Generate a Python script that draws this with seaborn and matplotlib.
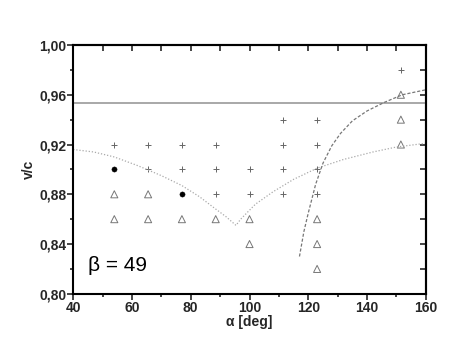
import matplotlib
matplotlib.use("Agg")
import matplotlib.pyplot as plt
import pandas as pd
import seaborn as sns
from matplotlib.ticker import MultipleLocator, FormatStrFormatter

# measured points
plus_alpha = [54, 65.5, 65.5, 77, 77, 88.5, 88.5, 88.5, 100, 100,
              111.5, 111.5, 111.5, 111.5, 123, 123, 123, 123, 151.5]
plus_vc = [0.92, 0.92, 0.90, 0.92, 0.90, 0.92, 0.90, 0.88, 0.90, 0.88,
           0.94, 0.92, 0.90, 0.88, 0.94, 0.92, 0.90, 0.88, 0.98]

tri_alpha = [54, 54, 65.5, 65.5, 77, 88.5, 100, 100, 123, 123, 123,
             151.5, 151.5, 151.5]
tri_vc = [0.88, 0.86, 0.88, 0.86, 0.86, 0.86, 0.86, 0.84, 0.86, 0.84, 0.82,
          0.96, 0.94, 0.92]

dot_alpha = [54, 77]
dot_vc = [0.90, 0.88]

# curves
dotted_alpha = [40, 47, 54, 62, 70, 77, 83, 88, 92, 95.4,
                97, 102, 108, 115, 123, 132, 142, 150, 160]
dotted_vc = [0.916, 0.914, 0.910, 0.903, 0.895, 0.887, 0.878, 0.869, 0.862, 0.855,
             0.860, 0.872, 0.882, 0.892, 0.901, 0.908, 0.914, 0.918, 0.921]

dashed_alpha = [117, 118.5, 120, 122.5, 125, 128, 131, 135, 140, 146, 152, 156, 160]
dashed_vc = [0.830, 0.850, 0.865, 0.888, 0.905, 0.919, 0.929, 0.939, 0.947, 0.954,
             0.960, 0.962, 0.964]

limit_vc = 0.953

sns.set_style("ticks")
plt.rcParams["font.family"] = ["Liberation Sans", "DejaVu Sans"]

fig = plt.figure(figsize=(4.69, 3.57), dpi=100)
ax = fig.add_axes([0.156, 0.177, 0.752, 0.697])

ax.axhline(limit_vc, color="#999999", lw=1.2)

sns.lineplot(data=pd.DataFrame({"a": dotted_alpha, "v": dotted_vc}), x="a", y="v",
             sort=False, estimator=None, ax=ax, color="#aaaaaa", lw=0.9,
             linestyle=(0, (1, 1.5)))
sns.lineplot(data=pd.DataFrame({"a": dashed_alpha, "v": dashed_vc}), x="a", y="v",
             sort=False, estimator=None, ax=ax, color="#777777", lw=0.9,
             linestyle=(0, (2.5, 1.5)))

sns.scatterplot(x=plus_alpha, y=plus_vc, marker="+", s=22, color="#666666",
                linewidth=0.7, ax=ax)
sns.scatterplot(x=tri_alpha, y=tri_vc, marker="^", s=26, facecolor="none",
                edgecolor="#777777", linewidth=0.7, ax=ax)
sns.scatterplot(x=dot_alpha, y=dot_vc, marker="o", s=14, color="black",
                edgecolor="black", ax=ax)

ax.set_xlim(40, 160)
ax.set_ylim(0.80, 1.00)
ax.xaxis.set_major_locator(MultipleLocator(20))
ax.xaxis.set_minor_locator(MultipleLocator(10))
ax.yaxis.set_major_locator(MultipleLocator(0.04))
ax.yaxis.set_minor_locator(MultipleLocator(0.02))
ax.yaxis.set_major_formatter(FormatStrFormatter("%.2f"))
ax.set_yticklabels([f"{t:.2f}".replace(".", ",") for t in ax.get_yticks()])

for s in ax.spines.values():
    s.set_linewidth(1.5)
    s.set_color("black")
    s.set_visible(True)

ax.tick_params(which="both", direction="out", width=1.2, labelsize=10, pad=1)
ax.tick_params(which="major", length=4)
ax.tick_params(which="minor", length=2.5)
for lbl in ax.get_xticklabels() + ax.get_yticklabels():
    lbl.set_fontweight("bold")

# inward ticks on top/right
sec_x = ax.secondary_xaxis("top")
sec_x.xaxis.set_major_locator(MultipleLocator(20))
sec_x.xaxis.set_minor_locator(MultipleLocator(10))
sec_x.tick_params(which="both", direction="in", width=1.2, length=4, labeltop=False)
sec_x.spines["top"].set_linewidth(1.5)
sec_y = ax.secondary_yaxis("right")
sec_y.yaxis.set_major_locator(MultipleLocator(0.04))
sec_y.yaxis.set_minor_locator(MultipleLocator(0.02))
sec_y.tick_params(which="both", direction="in", width=1.2, length=4, labelright=False)
sec_y.spines["right"].set_linewidth(1.5)

ax.set_xlabel("α [deg]", fontsize=10, fontweight="bold", labelpad=0)
ax.set_ylabel("v/c", fontsize=10, fontweight="bold", labelpad=2)

ax.text(45, 0.818, "β = 49", fontsize=15, color="black")

fig.savefig("out.png", dpi=100)
